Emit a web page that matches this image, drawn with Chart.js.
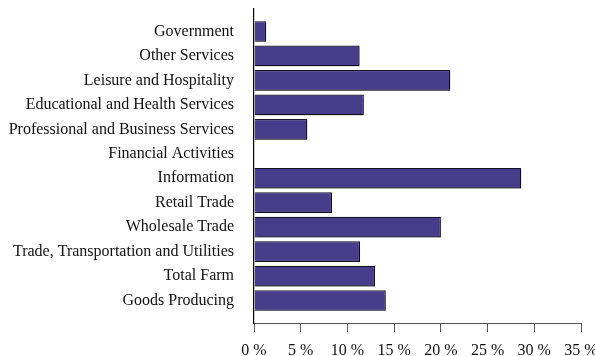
<!DOCTYPE html>
<html>
<head>
<meta charset="utf-8">
<script src="https://cdn.jsdelivr.net/npm/chart.js@4/dist/chart.umd.min.js"></script>
<style>
html,body{margin:0;padding:0;background:#fff;}
#wrap{width:595px;height:356px;position:relative;}
</style>
</head>
<body>
<div id="wrap"><canvas id="c" width="595" height="356"></canvas></div>
<script>
const categories = [
  "Government",
  "Other Services",
  "Leisure and Hospitality",
  "Educational and Health Services",
  "Professional and Business Services",
  "Financial Activities",
  "Information",
  "Retail Trade",
  "Wholesale Trade",
  "Trade, Transportation and Utilities",
  "Total Farm",
  "Goods Producing"
];
const values = [1.3, 11.3, 21.0, 11.75, 5.7, 0, 28.6, 8.35, 20.0, 11.35, 12.95, 14.1];
const xTicks = [0, 5, 10, 15, 20, 25, 30, 35];

const FONT = {family: "'Liberation Serif', 'Times New Roman', serif", size: 16};

const shadowPlugin = {
  id: 'barShadow',
  beforeDatasetsDraw(chart) {
    const ctx = chart.ctx;
    ctx.save();
    ctx.shadowColor = 'rgba(0,0,0,0.35)';
    ctx.shadowOffsetX = 1;
    ctx.shadowOffsetY = 1;
    ctx.shadowBlur = 1;
  },
  afterDatasetsDraw(chart) {
    chart.ctx.restore();
  }
};

new Chart(document.getElementById('c'), {
  type: 'bar',
  data: {
    datasets: [{
      data: values.map((v, i) => ({x: v, y: i})),
      backgroundColor: '#483D8B',
      borderColor: '#15122a',
      borderWidth: 1.2,
      borderSkipped: 'start',
      categoryPercentage: 1,
      barPercentage: 0.845
    }]
  },
  options: {
    indexAxis: 'y',
    responsive: false,
    animation: false,
    events: [],
    layout: {padding: {top: 9, left: 0, right: 14, bottom: 0}},
    plugins: {legend: {display: false}, tooltip: {enabled: false}},
    scales: {
      x: {
        type: 'linear',
        position: 'bottom',
        min: 0,
        max: 35,
        afterBuildTicks: (s) => { s.ticks = xTicks.map(v => ({value: v})); },
        afterFit: (s) => { s.height = 33; s.paddingLeft = 0; s.paddingRight = 0; },
        grid: {display: true, drawOnChartArea: false, drawTicks: true, tickLength: 9, color: '#555', lineWidth: 1},
        border: {display: true, color: '#555', width: 1},
        ticks: {font: FONT, color: '#111', padding: 9, maxRotation: 0, callback: (v) => v + ' %'}
      },
      y: {
        type: 'linear',
        reverse: true,
        offset: false,
        min: -0.92,
        max: 11.92,
        afterBuildTicks: (s) => { s.ticks = categories.map((c, i) => ({value: i})); },
        afterFit: (s) => { s.width = 254; s.paddingTop = 0; s.paddingBottom = 0; },
        grid: {display: false, drawTicks: false},
        border: {display: true, color: '#000', width: 1.2},
        ticks: {font: FONT, color: '#111', padding: 20, autoSkip: false, callback: (v) => categories[v]}
      }
    }
  },
  plugins: [shadowPlugin]
});
</script>
</body>
</html>
